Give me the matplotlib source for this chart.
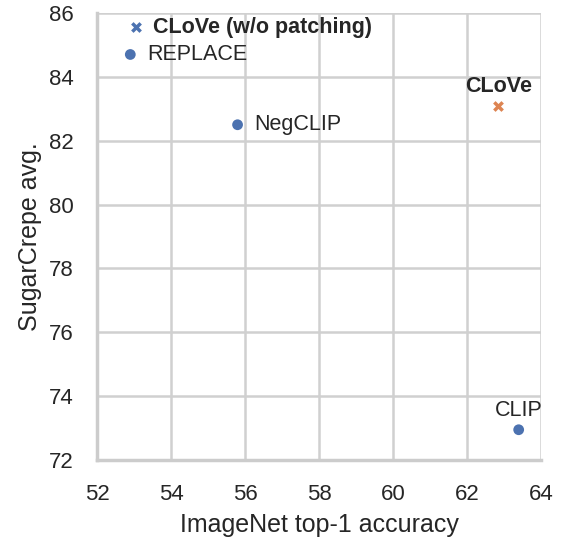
import matplotlib

matplotlib.use("Agg")
import matplotlib.pyplot as plt
import seaborn as sns

# Model results: ImageNet top-1 vs SugarCrepe average
models = ["CLoVe (w/o patching)", "REPLACE", "NegCLIP", "CLoVe", "CLIP"]
imagenet = [53.05, 52.9, 55.8, 62.85, 63.4]
sugarcrepe = [85.55, 84.7, 82.5, 83.1, 72.95]
markers = ["x", "o", "o", "x", "o"]
colors = ["#4c72b0", "#4c72b0", "#4c72b0", "#dd8452", "#4c72b0"]
bold = [True, False, False, True, False]

sns.set_theme(style="whitegrid")
plt.rcParams["font.family"] = ["Liberation Sans", "DejaVu Sans"]

fig = plt.figure(figsize=(5.64, 5.4), dpi=100)
ax = fig.add_axes([0.172, 0.148, 0.787, 0.828])

for name, x, y, m, c, b in zip(models, imagenet, sugarcrepe, markers, colors, bold):
    if m == "x":
        ax.scatter(x, y, marker="x", color=c, s=36, linewidths=2.5, zorder=3)
    else:
        ax.scatter(x, y, marker="o", color=c, s=60, edgecolors="none", zorder=3)

# label placement: text to the right, or above the point
txt = dict(textcoords="offset points", fontsize=15.5, color="#262626")
ax.annotate(models[0], (imagenet[0], sugarcrepe[0]), xytext=(12, 0),
            va="center", ha="left", fontweight="bold", **txt)
ax.annotate(models[1], (imagenet[1], sugarcrepe[1]), xytext=(12, 0),
            va="center", ha="left", **txt)
ax.annotate(models[2], (imagenet[2], sugarcrepe[2]), xytext=(12, 0),
            va="center", ha="left", **txt)
ax.annotate(models[3], (imagenet[3], sugarcrepe[3]), xytext=(0, 6),
            va="bottom", ha="center", fontweight="bold", **txt)
ax.annotate(models[4], (imagenet[4], sugarcrepe[4]), xytext=(0, 6),
            va="bottom", ha="center", **txt)

ax.set_xlim(52, 64)
ax.set_ylim(72, 86)
ax.set_xticks(range(52, 65, 2))
ax.set_yticks(range(72, 87, 2))
ax.tick_params(labelsize=16, colors="#262626", pad=11)
ax.set_xlabel("ImageNet top-1 accuracy", fontsize=18, color="#262626", labelpad=6)
ax.set_ylabel("SugarCrepe avg.", fontsize=18, color="#262626", labelpad=5)

ax.grid(color="#d0d0d0", linewidth=1.8)
for side in ("top", "right"):
    ax.spines[side].set_visible(False)
for side in ("left", "bottom"):
    ax.spines[side].set_color("#cccccc")
    ax.spines[side].set_linewidth(2.5)

fig.savefig("out.png", dpi=100)
